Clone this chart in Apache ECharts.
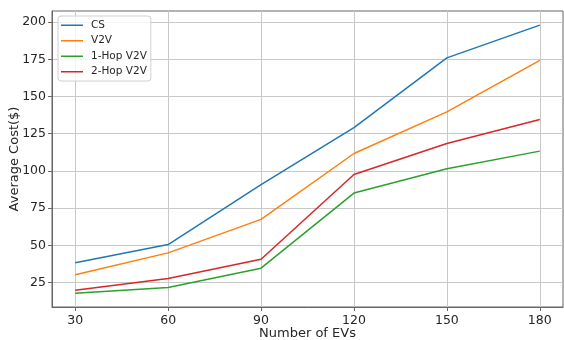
<!DOCTYPE html>
<html>
<head>
<meta charset="utf-8">
<script src="https://cdn.jsdelivr.net/npm/echarts@6/dist/echarts.min.js"></script>
<style>
  html, body { margin: 0; padding: 0; background: #fff; }
  #chart { width: 564px; height: 340px; }
</style>
</head>
<body>
<div id="chart"></div>
<script>
const evs = [30, 60, 90, 120, 150, 180]
const csCost = [38.2, 50.5, 90.7, 129.1, 176.0, 198.0]
const v2vCost = [30.2, 44.9, 67.4, 111.7, 139.7, 174.3]
const oneHopCost = [17.8, 21.6, 34.6, 85.1, 101.4, 113.3]
const twoHopCost = [19.8, 27.7, 40.6, 97.6, 118.4, 134.5]
const xTicks = [30, 60, 90, 120, 150, 180]
const yTicks = [25, 50, 75, 100, 125, 150, 175, 200]

const pairs = (ys) => evs.map((x, i) => [x, ys[i]])

const mkSeries = (name, ys, color) => ({
  name: name,
  type: 'line',
  symbol: 'none',
  data: pairs(ys),
  lineStyle: { width: 1.5, color: color },
  itemStyle: { color: color }
})

const axisCommon = {
  axisLine: { show: true, onZero: false, lineStyle: { color: '#666', width: 1 } },
  axisTick: { show: true, length: 4, lineStyle: { color: '#666', width: 1 } },
  axisLabel: { color: '#262626', fontSize: 12.5, fontFamily: 'DejaVu Sans' },
  splitLine: { show: true, lineStyle: { color: '#c8c8c8', width: 1 } },
  nameTextStyle: { color: '#262626', fontSize: 13, fontFamily: 'DejaVu Sans' },
  nameMoveOverlap: false
}

const chart = echarts.init(document.getElementById('chart'))
chart.setOption({
  animation: false,
  backgroundColor: '#fff',
  grid: {
    left: 52, right: 1, top: 11, bottom: 33,
    containLabel: false,
    outerBoundsMode: 'none',
    show: true,
    borderColor: '#666',
    borderWidth: 1
  },
  legend: {
    orient: 'vertical',
    left: 58,
    top: 16,
    icon: 'rect',
    itemWidth: 22,
    itemHeight: 1.5,
    itemGap: 3,
    padding: [3, 4, 3, 3],
    backgroundColor: 'rgba(255,255,255,0.8)',
    borderColor: '#d0d0d0',
    borderWidth: 1,
    borderRadius: 3,
    textStyle: { color: '#262626', fontSize: 10.5, fontFamily: 'DejaVu Sans', lineHeight: 12.5, padding: [0, 0, 0, 3] },
    data: ['CS', 'V2V', '1-Hop V2V', '2-Hop V2V']
  },
  xAxis: Object.assign({}, axisCommon, {
    type: 'value',
    min: 22.5,
    max: 187.5,
    name: 'Number of EVs',
    nameLocation: 'middle',
    nameGap: 20,
    axisTick: Object.assign({}, axisCommon.axisTick, { customValues: xTicks }),
    axisLabel: Object.assign({}, axisCommon.axisLabel, { customValues: xTicks, margin: 7 })
  }),
  yAxis: Object.assign({}, axisCommon, {
    type: 'value',
    min: 8.5,
    max: 207.5,
    name: 'Average Cost($)',
    nameLocation: 'middle',
    nameGap: 31,
    axisTick: Object.assign({}, axisCommon.axisTick, { customValues: yTicks }),
    axisLabel: Object.assign({}, axisCommon.axisLabel, { customValues: yTicks, margin: 6 })
  }),
  series: [
    mkSeries('CS', csCost, '#1f77b4'),
    mkSeries('V2V', v2vCost, '#ff7f0e'),
    mkSeries('1-Hop V2V', oneHopCost, '#2ca02c'),
    mkSeries('2-Hop V2V', twoHopCost, '#d62728')
  ]
})
</script>
</body>
</html>
